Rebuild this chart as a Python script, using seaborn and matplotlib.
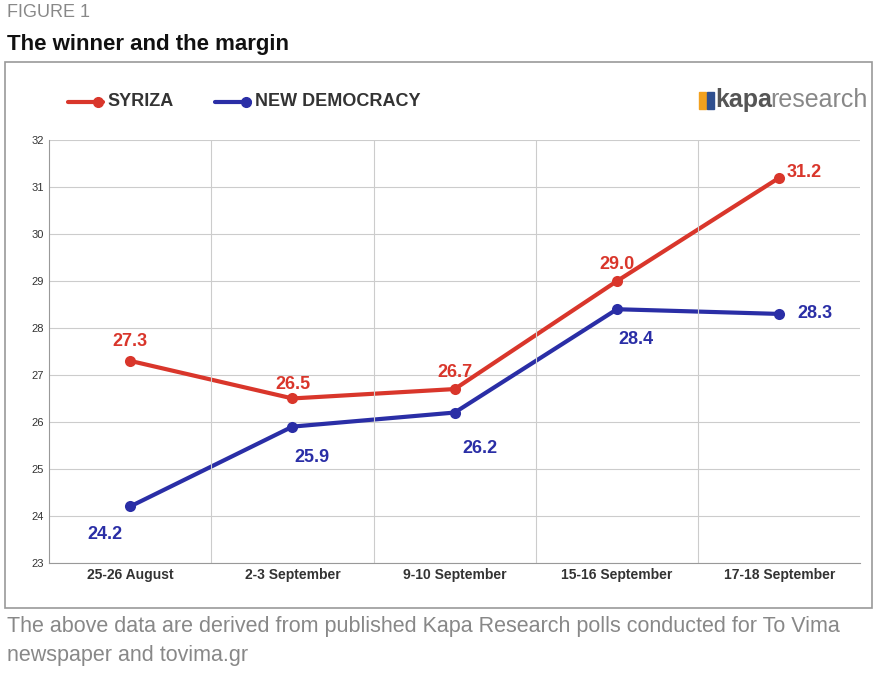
import matplotlib
matplotlib.use("Agg")
import matplotlib.pyplot as plt
import matplotlib.patches as mpatches
import pandas as pd
import seaborn as sns

dates = ["25-26 August", "2-3 September", "9-10 September", "15-16 September", "17-18 September"]
syriza = [27.3, 26.5, 26.7, 29.0, 31.2]
nd = [24.2, 25.9, 26.2, 28.4, 28.3]

RED = "#d9362b"
BLUE = "#2a2ea6"

sns.set_style("white")
plt.rcParams["font.family"] = ["Liberation Sans", "DejaVu Sans"]

df = pd.DataFrame({"pos": list(range(5)) * 2,
                   "value": syriza + nd,
                   "party": ["SYRIZA"] * 5 + ["NEW DEMOCRACY"] * 5})

fig = plt.figure(figsize=(8.77, 6.74), dpi=100)
fig.patches.append(mpatches.Rectangle((0.0057, 0.098), 0.989, 0.81, transform=fig.transFigure,
                                      fill=False, edgecolor="#999999", linewidth=1.2))
ax = fig.add_axes([0.056, 0.165, 0.925, 0.627])
sns.lineplot(data=df, x="pos", y="value", hue="party", palette=[RED, BLUE], marker="o",
             markersize=8, markeredgewidth=0, linewidth=3, ax=ax, legend=False)

ax.set_xlim(-0.5, 4.5)
ax.set_ylim(23, 32)
ax.set_yticks(range(23, 33))
ax.set_xticks(range(5))
ax.set_xticklabels(dates, fontsize=10, fontweight="bold", color="#333333")
ax.tick_params(axis="y", labelsize=8, colors="#333333", length=0)
ax.tick_params(axis="x", length=0)
ax.set_xlabel("")
ax.set_ylabel("")
ax.grid(axis="y", color="#cccccc", linewidth=0.8)
for b in [0.5, 1.5, 2.5, 3.5]:
    ax.axvline(b, color="#cccccc", linewidth=0.8)
for s in ["top", "right"]:
    ax.spines[s].set_visible(False)
for s in ["left", "bottom"]:
    ax.spines[s].set_color("#999999")

s_off = [(0, 14), (0, 10), (0, 12), (0, 12), (18, 4)]
n_off = [(-18, -20), (14, -22), (18, -26), (14, -22), (26, 0)]
for i in range(5):
    ax.annotate(f"{syriza[i]:.1f}", (i, syriza[i]), xytext=s_off[i], textcoords="offset points",
                ha="center", va="center", color=RED, fontsize=13, fontweight="bold")
    ax.annotate(f"{nd[i]:.1f}", (i, nd[i]), xytext=n_off[i], textcoords="offset points",
                ha="center", va="center", color=BLUE, fontsize=13, fontweight="bold")

# legend
for x0, col, lab in [(0.077, RED, "SYRIZA"), (0.245, BLUE, "NEW DEMOCRACY")]:
    fig.add_artist(plt.Line2D([x0, x0 + 0.04], [0.849, 0.849], color=col, linewidth=3,
                              transform=fig.transFigure))
    fig.add_artist(plt.Line2D([x0 + 0.035], [0.849], color=col, marker="o", markersize=7,
                              transform=fig.transFigure))
    fig.text(x0 + 0.046, 0.849, lab, fontsize=13, fontweight="bold", color="#333333", va="center")

# logo
fig.patches.append(mpatches.Rectangle((0.797, 0.838), 0.008, 0.025, transform=fig.transFigure,
                                      color="#f2a11f"))
fig.patches.append(mpatches.Rectangle((0.806, 0.838), 0.008, 0.025, transform=fig.transFigure,
                                      color="#2f4f8f"))
fig.text(0.816, 0.851, "kapa", fontsize=18, fontweight="bold", color="#555555", va="center")
fig.text(0.878, 0.851, "research", fontsize=18, color="#888888", va="center")

fig.text(0.008, 0.982, "FIGURE 1", fontsize=13, color="#888888", va="center")
fig.text(0.008, 0.934, "The winner and the margin", fontsize=16, fontweight="bold",
         color="#111111", va="center")
fig.text(0.008, 0.070, "The above data are derived from published Kapa Research polls conducted for To Vima",
         fontsize=15.5, color="#888888", va="center")
fig.text(0.008, 0.028, "newspaper and tovima.gr", fontsize=15.5, color="#888888", va="center")

fig.savefig("out.png", dpi=100)
